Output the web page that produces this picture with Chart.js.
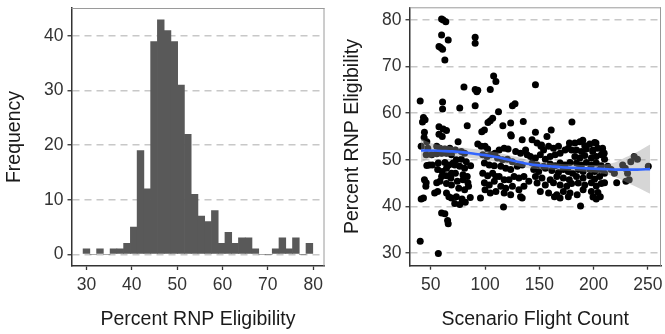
<!DOCTYPE html>
<html>
<head>
<meta charset="utf-8">
<script src="https://cdn.jsdelivr.net/npm/chart.js@4.4.0/dist/chart.umd.min.js"></script>
<style>
  html, body { margin: 0; padding: 0; background: #fff; }
  #wrap { position: relative; width: 665px; height: 334px; }
  #hist { position: absolute; left: 0; top: 0; }
  #scatter { position: absolute; left: 332px; top: 0; }
</style>
</head>
<body>
<div id="wrap">
  <canvas id="hist" width="332" height="334"></canvas>
  <canvas id="scatter" width="333" height="334"></canvas>
</div>
<script>
// histogram: bin centres and counts
const binCenters = [30.00, 31.49, 32.98, 34.47, 35.96, 37.45, 38.94, 40.43, 41.92, 43.41,
    44.90, 46.39, 47.88, 49.37, 50.86, 52.35, 53.84, 55.33, 56.82, 58.31,
    59.80, 61.29, 62.78, 64.27, 65.76, 67.25, 68.74, 70.23, 71.72, 73.21,
    74.70, 76.19, 77.68, 79.17];
const binCounts = [1, 0, 1, 0, 1, 1, 2, 5, 19, 12,
    39, 43, 41, 39, 31, 22, 11, 7, 6, 8,
    2, 4, 2, 3, 3, 1, 0, 0, 1, 3,
    1, 3, 0, 2];
const histTicksX = [30, 40, 50, 60, 70, 80];
const histTicksY = [0, 10, 20, 30, 40];

// scatter: [flight count, percent RNP eligibility]
const scenarios = [
    [40.3, 62.6], [43.3, 59.1], [44.8, 58.6], [42.4, 58.1], [44.2, 55.9], [43.9, 54.8],
    [41.2, 52.9], [46.4, 53.9], [47.3, 52.5], [45.8, 51.1], [48.8, 48.9], [46.4, 48.8],
    [51.5, 48.9], [44.2, 45.7], [45.8, 45.1], [45.5, 44.3], [41.2, 41.6], [43.3, 41.8],
    [40.3, 32.5], [57.0, 29.9], [53.6, 42.9],
    [60.0, 80.2], [63.9, 79.6], [61.5, 80.0], [60.0, 76.8], [66.1, 75.7], [57.6, 74.3],
    [60.9, 73.7], [59.1, 74.1], [63.0, 71.4], [60.9, 62.4], [60.9, 60.9], [57.6, 57.1],
    [61.5, 56.6], [64.5, 56.3], [57.6, 55.5], [60.6, 55.0], [55.5, 52.9], [58.5, 52.5],
    [63.0, 52.3], [67.6, 52.5], [50.9, 51.1], [55.5, 51.3], [60.0, 51.4], [64.5, 51.4],
    [69.1, 51.1], [57.0, 49.3], [63.0, 49.4], [66.7, 48.9], [70.6, 49.3], [56.4, 47.9],
    [60.6, 47.5], [64.5, 48.2], [69.1, 47.1], [60.0, 46.4], [64.5, 46.6], [68.5, 46.1],
    [55.5, 45.1], [58.5, 45.4], [64.5, 44.9], [69.1, 44.6], [56.4, 43.2], [64.5, 42.9],
    [66.7, 42.1], [69.1, 41.8], [60.0, 38.6], [63.0, 38.4], [65.5, 37.0], [66.1, 36.3],
    [80.6, 65.6], [76.7, 61.1], [83.6, 57.3], [75.2, 53.9], [72.7, 52.1], [78.2, 51.8],
    [81.2, 51.4], [73.6, 50.0], [78.2, 50.1], [82.7, 49.6], [72.1, 48.9], [76.7, 48.6],
    [81.2, 48.2], [86.7, 48.7], [72.7, 47.1], [79.7, 46.8], [83.6, 46.4], [74.5, 45.4],
    [79.7, 45.7], [84.2, 45.1], [75.8, 43.9], [81.2, 43.6], [84.8, 44.3], [73.6, 42.1],
    [78.8, 41.6], [81.8, 40.9], [72.1, 40.6], [76.7, 40.4], [86.4, 41.9],
    [90.9, 76.3], [90.9, 75.0], [90.9, 65.1], [92.4, 64.6], [93.3, 64.9], [90.9, 61.6],
    [93.3, 53.4], [96.4, 52.9], [99.4, 56.4], [97.0, 56.0], [102.7, 58.0], [104.8, 58.4],
    [107.0, 58.9], [107.9, 68.0], [110.0, 66.8], [104.8, 65.1], [100.0, 52.9], [102.4, 52.3],
    [97.9, 51.1], [101.8, 50.7], [105.5, 51.1], [109.1, 51.4], [99.4, 49.3], [103.9, 48.9],
    [108.5, 48.7], [97.9, 47.1], [102.4, 46.6], [107.0, 47.1], [110.0, 46.4], [99.4, 45.1],
    [103.9, 44.6], [108.5, 45.4], [100.0, 43.6], [104.8, 42.9], [110.0, 43.2], [95.8, 41.8],
    [112.4, 60.3], [116.4, 57.3], [125.2, 61.6], [127.6, 62.0], [123.6, 57.9], [123.6, 55.4],
    [135.2, 58.2], [134.2, 54.3], [113.0, 52.1], [117.6, 52.5], [121.2, 52.3], [128.2, 51.8],
    [132.7, 51.4], [137.3, 52.1], [138.8, 51.1], [111.5, 50.4], [116.1, 50.0], [120.6, 50.1],
    [125.2, 49.6], [114.5, 48.6], [119.1, 48.2], [123.6, 47.9], [129.7, 48.6], [134.2, 48.9],
    [113.0, 46.4], [117.6, 45.7], [122.1, 45.7], [126.7, 46.4], [131.2, 46.1], [135.8, 46.4],
    [114.5, 44.3], [119.1, 43.9], [125.2, 44.3], [131.2, 43.6], [135.8, 44.3], [117.6, 42.9],
    [123.6, 42.5], [132.7, 42.1], [134.2, 41.8], [117.0, 39.9], [140.3, 45.4], [124.2, 55.1],
    [146.4, 66.1], [146.4, 55.9], [160.9, 56.4], [157.0, 55.0], [143.3, 54.3], [147.9, 53.6],
    [151.5, 52.9], [153.9, 52.1], [158.5, 52.9], [163.0, 52.5], [167.6, 52.9], [141.8, 50.7],
    [146.4, 50.4], [150.9, 51.1], [155.5, 50.1], [160.0, 50.7], [164.5, 51.1], [169.1, 51.4],
    [173.6, 52.1], [176.7, 52.5], [179.7, 52.1], [143.3, 49.3], [147.9, 48.9], [153.9, 48.6],
    [160.0, 49.1], [164.5, 48.7], [169.1, 49.3], [173.6, 48.9], [178.2, 49.4], [144.8, 47.9],
    [149.4, 47.5], [155.5, 48.2], [161.5, 47.7], [167.6, 47.3], [172.1, 47.9], [176.7, 47.5],
    [180.6, 47.1], [146.4, 46.4], [152.4, 46.1], [160.0, 45.7], [166.1, 46.4], [172.1, 46.1],
    [177.6, 45.7], [147.9, 45.0], [155.5, 44.6], [163.0, 45.1], [169.1, 44.6], [175.2, 44.3],
    [179.7, 44.9], [150.9, 43.2], [158.5, 42.9], [166.1, 42.5], [172.1, 43.2], [178.2, 42.9],
    [163.9, 42.1], [169.1, 41.8], [176.7, 42.1], [180.0, 58.1], [184.8, 42.5], [187.9, 40.1],
    [177.7, 53.6], [152.0, 53.2],
    [182.7, 53.6], [187.3, 53.9], [191.8, 53.0], [196.4, 53.4], [200.9, 53.7], [184.2, 52.1],
    [188.8, 51.8], [193.3, 52.3], [199.4, 52.1], [203.9, 52.5], [208.5, 51.8], [182.7, 50.7],
    [187.3, 50.4], [191.8, 50.9], [197.9, 50.4], [202.4, 50.7], [207.0, 51.1], [210.0, 50.1],
    [184.2, 49.3], [188.8, 48.9], [193.3, 49.4], [197.9, 48.9], [202.4, 49.3], [207.0, 48.7],
    [185.8, 47.9], [190.3, 47.5], [196.4, 48.0], [200.9, 47.5], [205.5, 47.9], [210.0, 47.1],
    [184.2, 46.4], [190.3, 46.1], [196.4, 46.6], [200.9, 45.9], [205.5, 46.4], [185.8, 45.0],
    [191.8, 44.6], [197.9, 45.1], [202.4, 44.4], [207.0, 44.9], [210.0, 45.1], [190.3, 43.6],
    [197.9, 43.2], [203.9, 43.0], [199.4, 42.0], [202.4, 41.6], [206.1, 42.1],
    [190.0, 54.2], [202.1, 53.6], [208.2, 52.5], [199.1, 51.8], [209.7, 51.4],
    [213.0, 48.6], [216.1, 47.9], [219.1, 47.1], [221.2, 45.1], [226.7, 48.9], [229.1, 48.2],
    [231.2, 47.1], [232.7, 45.7], [229.7, 45.4], [237.3, 50.7], [240.3, 50.1], [234.2, 49.6],
    [250.3, 48.6]
];

// loess fit with its confidence band
const fitX = [41, 50, 60, 70, 80, 90, 100, 110, 120, 130, 140, 150, 160, 170, 180, 190, 200, 210, 220, 230, 240, 252];
const fitY = [52.0, 52.0, 51.9, 51.8, 51.6, 51.3, 51.0, 50.6, 50.1, 49.6, 49.1, 48.8, 48.6, 48.4, 48.3, 48.2, 48.1, 48.0, 47.9, 47.9, 47.9, 48.0];
const fitUpper = [54.5, 53.6, 53.1, 52.8, 52.6, 52.3, 52.0, 51.6, 51.1, 50.6, 50.0, 49.6, 49.3, 49.1, 49.0, 48.9, 48.9, 49.0, 49.5, 50.6, 51.7, 53.3];
const fitLower = [49.5, 50.4, 50.7, 50.8, 50.6, 50.3, 50.0, 49.6, 49.1, 48.6, 48.2, 48.0, 47.9, 47.7, 47.6, 47.5, 47.3, 47.0, 46.3, 45.2, 44.1, 42.7];
const scatterTicksX = [50, 100, 150, 200, 250];
const scatterTicksY = [30, 40, 50, 60, 70, 80];

Chart.defaults.font.family = '"Liberation Sans", Arial, Helvetica, sans-serif';
Chart.defaults.animation = false;

const TICK_FONT = { size: 17.5 };
const TITLE_FONT = { size: 19.5 };
const INK = '#333333';

// grey frame on the top and right of the panel
const panelFrame = {
    id: 'panelFrame',
    afterDraw(chart) {
        const { ctx, chartArea: a } = chart;
        ctx.save();
        ctx.strokeStyle = '#9a9a9a';
        ctx.lineWidth = 1;
        ctx.beginPath();
        ctx.moveTo(a.left, a.top + 0.5);
        ctx.lineTo(a.right, a.top + 0.5);
        ctx.moveTo(a.right - 0.5, a.top);
        ctx.lineTo(a.right - 0.5, a.bottom);
        ctx.stroke();
        ctx.restore();
    }
};

function fixedTicks(values) {
    return (scale) => { scale.ticks = values.map(v => ({ value: v })); };
}

function xAxis(min, max, ticks, title, height, titlePad) {
    return {
        type: 'linear', min, max, offset: false,
        afterBuildTicks: fixedTicks(ticks),
        afterFit: s => { s.height = height; s.paddingLeft = 0; s.paddingRight = 0; },
        ticks: { color: INK, font: TICK_FONT, padding: 5, maxRotation: 0, autoSkip: false },
        grid: { offset: false, drawOnChartArea: false, drawTicks: true, tickLength: 4, tickColor: INK, tickWidth: 1.3 },
        border: { color: INK, width: 1.5 },
        title: { display: true, text: title, color: '#1a1a1a', font: TITLE_FONT, padding: { top: 0, bottom: titlePad } }
    };
}

function yAxis(min, max, ticks, title, width, titlePad) {
    return {
        type: 'linear', min, max,
        afterBuildTicks: fixedTicks(ticks),
        afterFit: s => { s.width = width; s.paddingTop = 0; s.paddingBottom = 0; },
        ticks: { color: INK, font: TICK_FONT, padding: 4, autoSkip: false },
        grid: { color: '#c8c8c8', lineWidth: 1.5, drawTicks: true, tickLength: 4, tickColor: INK, tickWidth: 1.3 },
        border: { color: INK, width: 1.5, dash: [7, 5] },
        title: { display: true, text: title, color: '#1a1a1a', font: TITLE_FONT, padding: { top: titlePad, bottom: 0 } }
    };
}

const common = {
    responsive: false,
    plugins: { legend: { display: false }, tooltip: { enabled: false } }
};

new Chart(document.getElementById('hist'), {
    type: 'bar',
    data: {
        datasets: [{
            data: binCenters.map((x, i) => ({ x, y: binCounts[i] })),
            backgroundColor: '#595959',
            borderWidth: 0,
            barPercentage: 1,
            categoryPercentage: 1
        }]
    },
    options: {
        ...common,
        layout: { padding: { top: 8, right: 7.5, bottom: 0, left: 0 } },
        scales: {
            x: xAxis(26.7, 82.5, histTicksX, 'Percent RNP Eligibility', 68, 3),
            y: yAxis(-2.15, 45.15, histTicksY, 'Frequency', 71.5, 3.3)
        }
    },
    plugins: [panelFrame]
});

new Chart(document.getElementById('scatter'), {
    type: 'scatter',
    data: {
        datasets: [
            {
                data: scenarios.map(([x, y]) => ({ x, y })),
                backgroundColor: '#000',
                pointRadius: 3.5,
                pointBorderWidth: 0,
                order: 3
            },
            {
                type: 'line',
                data: fitX.map((x, i) => ({ x, y: fitUpper[i] })),
                borderWidth: 0,
                pointRadius: 0,
                tension: 0.3,
                fill: '+1',
                backgroundColor: 'rgba(153,153,153,0.4)',
                order: 2
            },
            {
                type: 'line',
                data: fitX.map((x, i) => ({ x, y: fitLower[i] })),
                borderWidth: 0,
                pointRadius: 0,
                tension: 0.3,
                fill: false,
                order: 2
            },
            {
                type: 'line',
                data: fitX.map((x, i) => ({ x, y: fitY[i] })),
                borderColor: '#3366FF',
                borderWidth: 2.6,
                pointRadius: 0,
                cubicInterpolationMode: 'monotone',
                fill: false,
                order: 1
            }
        ]
    },
    options: {
        ...common,
        layout: { padding: { top: 7.3, right: 1, bottom: 0, left: 0 } },
        scales: {
            x: xAxis(30.45, 262, scatterTicksX, 'Scenario Flight Count', 68.3, 2.3),
            y: yAxis(27.28, 82.72, scatterTicksY, 'Percent RNP Eligibility', 77.5, 8.6)
        }
    },
    plugins: [panelFrame]
});
</script>
</body>
</html>
